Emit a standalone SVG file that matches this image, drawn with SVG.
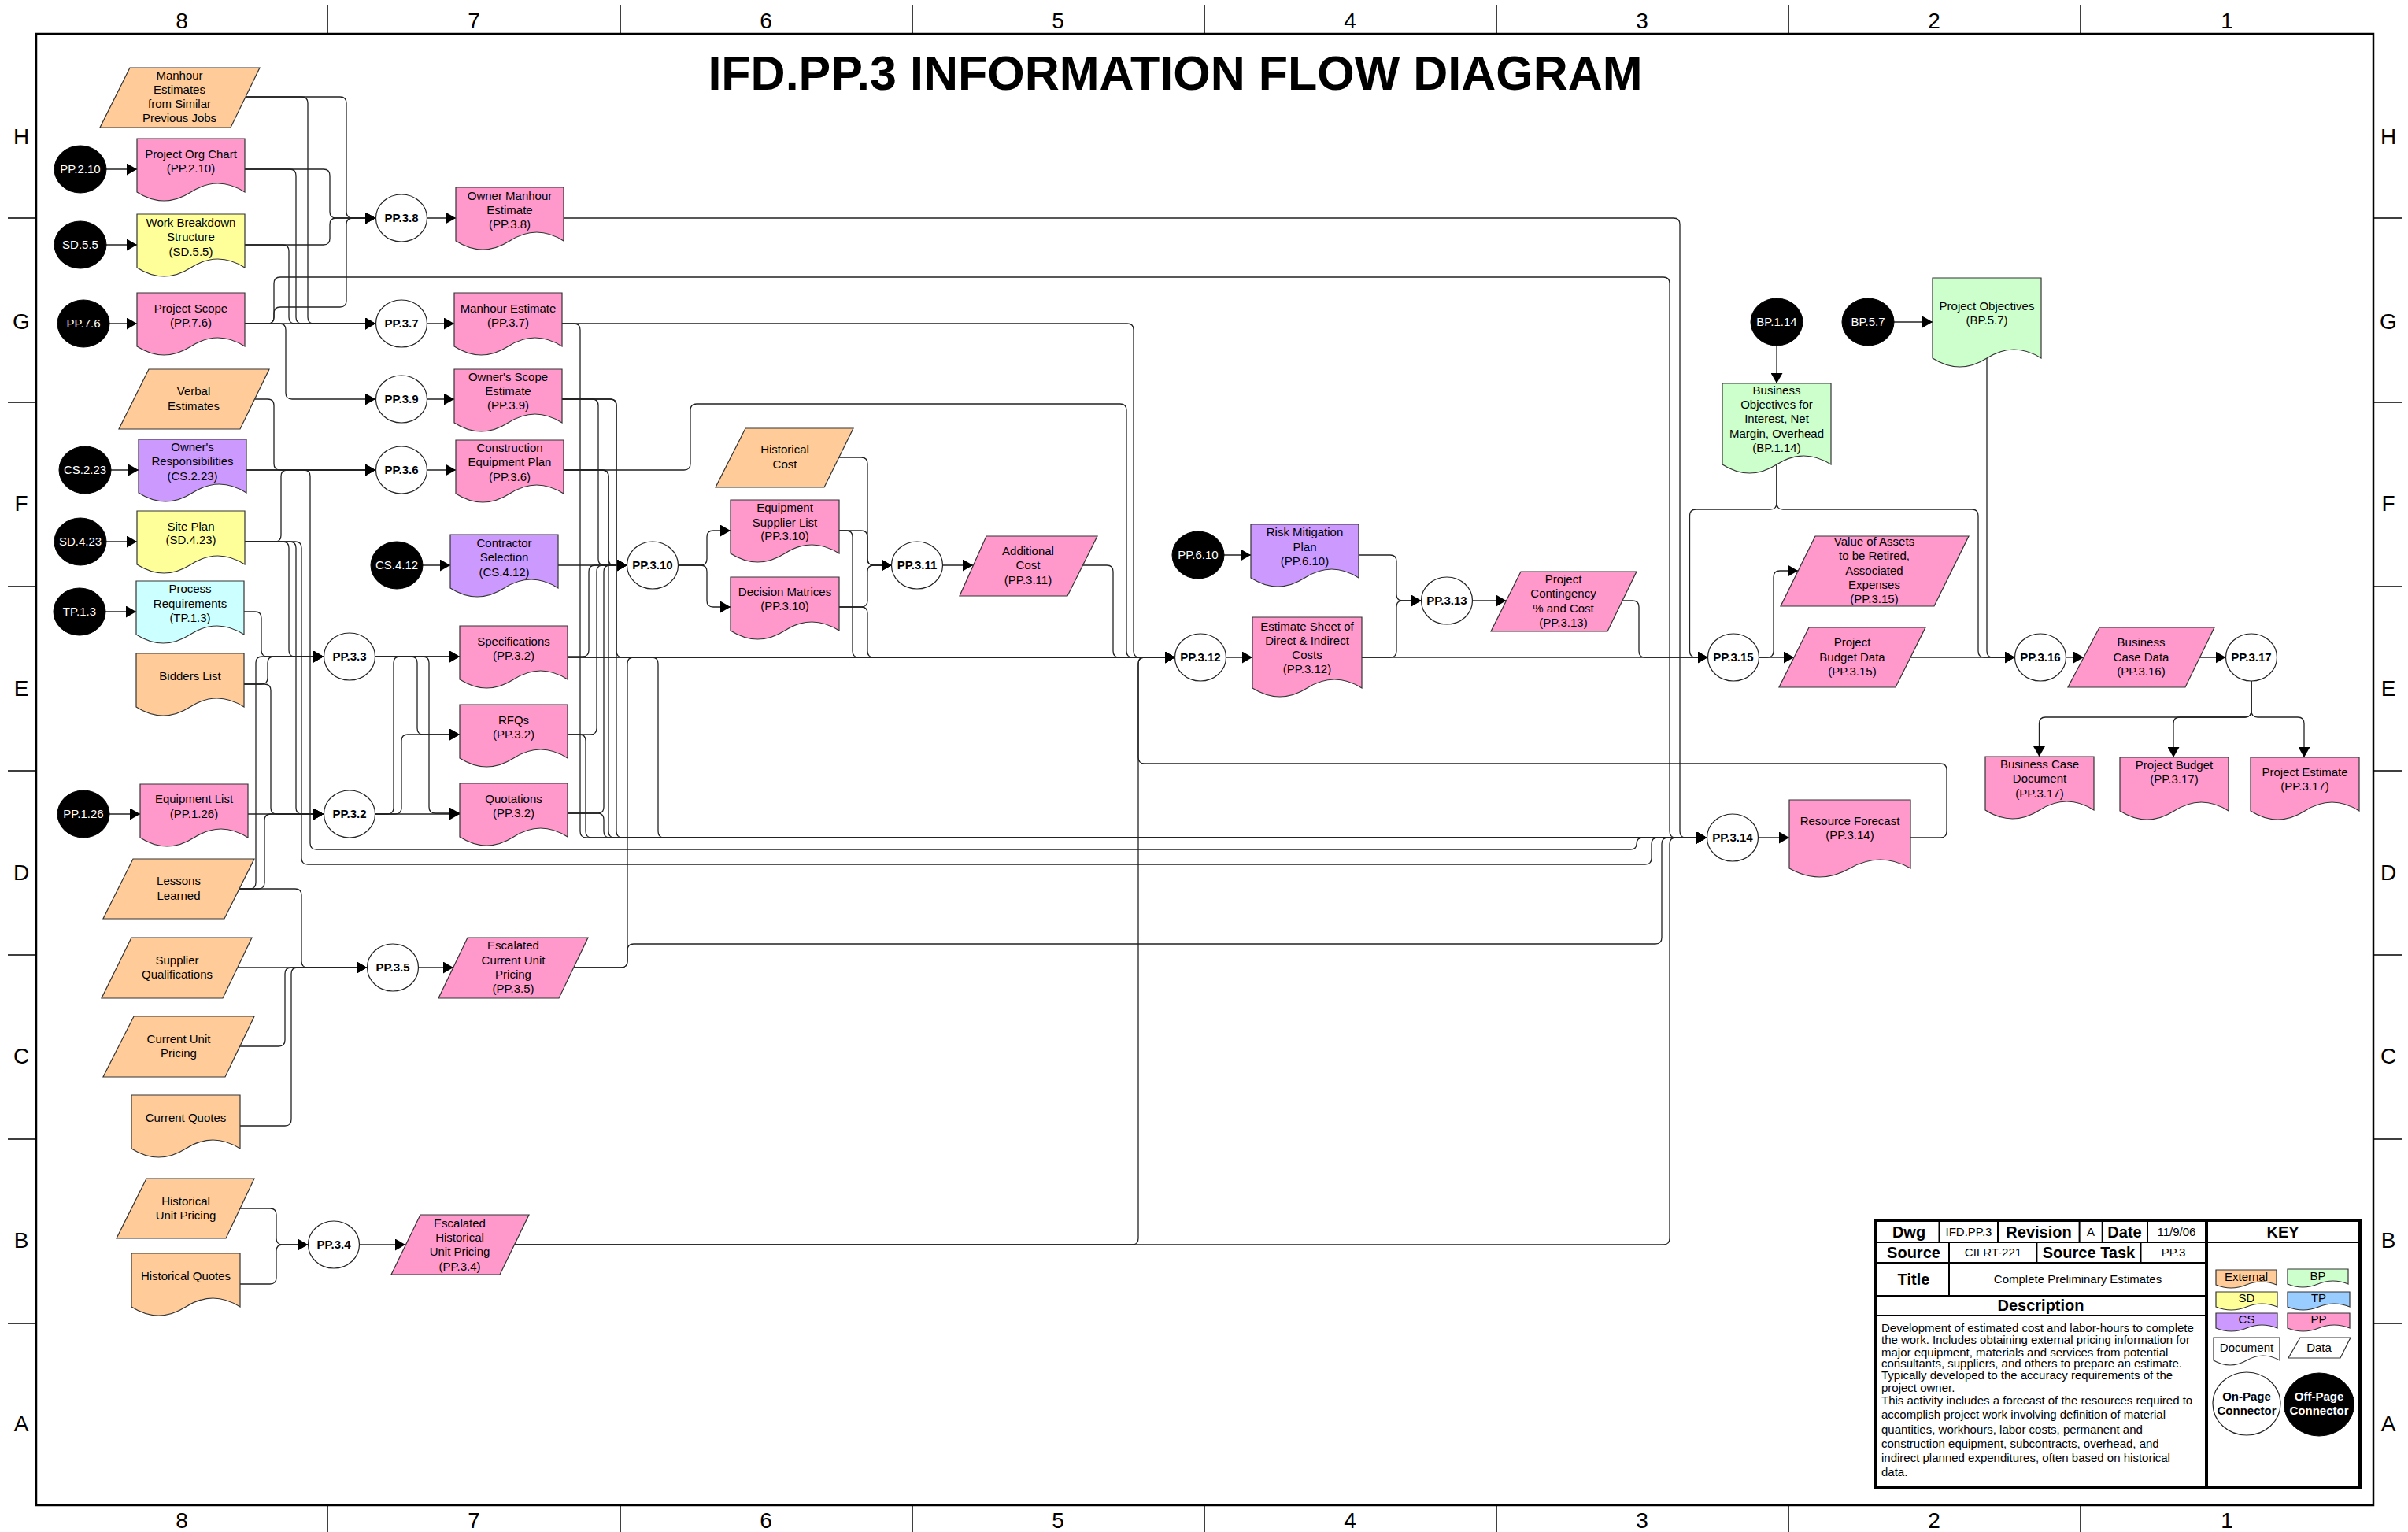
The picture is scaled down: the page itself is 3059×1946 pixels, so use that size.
<svg xmlns="http://www.w3.org/2000/svg" width="3059" height="1946" viewBox="0 0 3059 1946">
<style>
text{font-family:"Liberation Sans",Arial,sans-serif;font-size:15px;text-anchor:middle;fill:#000}
.b{font-weight:bold}
.w{fill:#fff}
.hd{font-size:28px}
.ti{font-size:61px;font-weight:bold}
.lb{font-size:20px;font-weight:bold}
.dl{text-anchor:start}
.ext{fill:#FFCC99}.pp{fill:#FF99CC}.sd{fill:#FFFF99}.cs{fill:#CC99FF}.tp{fill:#CCFFFF}.bp{fill:#CCFFCC}.tpk{fill:#99CCFF}
.sh{stroke:#333;stroke-width:1.2}
.op{fill:#000;stroke:#000}
.on{fill:#fff;stroke:#222;stroke-width:1.2}
#conn path{fill:none;stroke:#222;stroke-width:1.3;marker-end:url(#ah)}
.fr{fill:none;stroke:#000;stroke-width:2.5}
.tk{stroke:#000;stroke-width:1.5}
.lg{fill:none;stroke:#000;stroke-width:2}
</style>
<defs>
<marker id="ah" markerUnits="userSpaceOnUse" markerWidth="13" markerHeight="15" refX="13" refY="7.5" orient="auto">
<path d="M0,0 L13,7.5 L0,15 Z" fill="#000"/>
</marker>
</defs>
<rect width="3059" height="1946" fill="#fff"/>
<g id="frame">
<rect class="fr" x="46" y="43" width="2969" height="1869"/>
<path class="tk" d="M416,6V43M788,6V43M1159,6V43M1530,6V43M1901,6V43M2272,6V43M2643,6V43M416,1912V1946M788,1912V1946M1159,1912V1946M1530,1912V1946M1901,1912V1946M2272,1912V1946M2643,1912V1946M10,277H46M10,511H46M10,745H46M10,979H46M10,1213H46M10,1447H46M10,1681H46M3015,277H3051M3015,511H3051M3015,745H3051M3015,979H3051M3015,1213H3051M3015,1447H3051M3015,1681H3051"/>
<text class="hd" x="231" y="36">8</text><text class="hd" x="602" y="36">7</text><text class="hd" x="973" y="36">6</text><text class="hd" x="1344" y="36">5</text><text class="hd" x="1715" y="36">4</text><text class="hd" x="2086" y="36">3</text><text class="hd" x="2457" y="36">2</text><text class="hd" x="2829" y="36">1</text>
<text class="hd" x="231" y="1941">8</text><text class="hd" x="602" y="1941">7</text><text class="hd" x="973" y="1941">6</text><text class="hd" x="1344" y="1941">5</text><text class="hd" x="1715" y="1941">4</text><text class="hd" x="2086" y="1941">3</text><text class="hd" x="2457" y="1941">2</text><text class="hd" x="2829" y="1941">1</text>
<text class="hd" x="27" y="183">H</text><text class="hd" x="27" y="418">G</text><text class="hd" x="27" y="649">F</text><text class="hd" x="27" y="884">E</text><text class="hd" x="27" y="1118">D</text><text class="hd" x="27" y="1351">C</text><text class="hd" x="27" y="1585">B</text><text class="hd" x="27" y="1818">A</text>
<text class="hd" x="3034" y="183">H</text><text class="hd" x="3034" y="418">G</text><text class="hd" x="3034" y="649">F</text><text class="hd" x="3034" y="884">E</text><text class="hd" x="3034" y="1118">D</text><text class="hd" x="3034" y="1351">C</text><text class="hd" x="3034" y="1585">B</text><text class="hd" x="3034" y="1818">A</text>
<text class="ti" x="1493" y="114">IFD.PP.3 INFORMATION FLOW DIAGRAM</text>
</g>
<g id="conn">
<path d="M312,123H432Q440,123 440,131V269Q440,277 448,277H477"/>
<path d="M312,123H383Q391,123 391,131V403Q391,411 399,411H477"/>
<path d="M311,215H411Q419,215 419,223V269Q419,277 427,277H477"/>
<path d="M311,215H368Q376,215 376,223V403Q376,411 384,411H477"/>
<path d="M311,311H411Q419,311 419,303V285Q419,277 427,277H477"/>
<path d="M311,311H359Q367,311 367,319V403Q367,411 375,411H477"/>
<path d="M311,411H477"/>
<path d="M311,411H340Q348,411 348,403V398Q348,390 356,390H432Q440,390 440,382V285Q440,277 448,277H477"/>
<path d="M311,411H340Q348,411 348,403V360Q348,352 356,352H2113Q2121,352 2121,360V1056Q2121,1064 2129,1064H2168"/>
<path d="M311,411H355Q363,411 363,419V499Q363,507 371,507H477"/>
<path d="M324,507H340Q348,507 348,515V589Q348,597 356,597H477"/>
<path d="M313,597H477"/>
<path d="M313,597H386Q394,597 394,605V1071Q394,1079 402,1079H2071Q2079,1079 2079,1072Q2079,1064 2087,1064H2168"/>
<path d="M311,688H375Q383,688 383,696V1090Q383,1098 391,1098H2090Q2098,1098 2098,1090V1072Q2098,1064 2106,1064H2168"/>
<path d="M311,688H349Q357,688 357,680V605Q357,597 365,597H477"/>
<path d="M311,688H359Q367,688 367,696V826Q367,834 375,834H411"/>
<path d="M311,688H368Q376,688 376,696V1026Q376,1034 384,1034H411"/>
<path d="M310,777H324Q332,777 332,785V826Q332,834 340,834H411"/>
<path d="M310,869H332Q340,869 340,861V842Q340,834 348,834H411"/>
<path d="M310,869H336Q344,869 344,877V1026Q344,1034 352,1034H411"/>
<path d="M315,1034H411"/>
<path d="M304,1129H317Q325,1129 325,1121V842Q325,834 333,834H411"/>
<path d="M304,1129H328Q336,1129 336,1121V1042Q336,1034 344,1034H411"/>
<path d="M304,1129H375Q383,1129 383,1137V1221Q383,1229 391,1229H466"/>
<path d="M302,1229H466"/>
<path d="M304,1329H354Q362,1329 362,1321V1237Q362,1229 370,1229H466"/>
<path d="M305,1430H362Q370,1430 370,1422V1237Q370,1229 378,1229H466"/>
<path d="M305,1535H343Q351,1535 351,1543V1573Q351,1581 359,1581H391"/>
<path d="M305,1631H343Q351,1631 351,1623V1589Q351,1581 359,1581H391"/>
<path d="M542.5,277H579"/>
<path d="M542.5,411H577"/>
<path d="M542.5,507H577"/>
<path d="M542.5,597H579"/>
<path d="M476.5,834H584"/>
<path d="M476.5,834H522Q530,834 530,842V925Q530,933 538,933H584"/>
<path d="M476.5,834H537Q545,834 545,842V1025Q545,1033 553,1033H584"/>
<path d="M476.5,1034H584"/>
<path d="M476.5,1034H502Q510,1034 510,1026V941Q510,933 518,933H584"/>
<path d="M476.5,1034H492Q500,1034 500,1026V842Q500,834 508,834H584"/>
<path d="M531.5,1229H576"/>
<path d="M456.5,1581H515"/>
<path d="M709,718H796.5"/>
<path d="M714,507H752Q760,507 760,515V710Q760,718 768,718H796.5"/>
<path d="M716,597H765Q773,597 773,605V710Q773,718 781,718H796.5"/>
<path d="M721,834H740Q748,834 748,826V726Q748,718 756,718H796.5"/>
<path d="M721,933H750Q758,933 758,925V726Q758,718 766,718H796.5"/>
<path d="M721,1033H759Q767,1033 767,1025V726Q767,718 775,718H796.5"/>
<path d="M861.5,718H890Q898,718 898,710V682Q898,674 906,674H928"/>
<path d="M861.5,718H890Q898,718 898,726V763Q898,771 906,771H928"/>
<path d="M1066,581H1094Q1102,581 1102,589V710Q1102,718 1110,718H1132.5"/>
<path d="M1066,674H1094Q1102,674 1102,682V710Q1102,718 1110,718H1132.5"/>
<path d="M1066,771H1094Q1102,771 1102,763V726Q1102,718 1110,718H1132.5"/>
<path d="M1066,674H1075Q1083,674 1083,682V827Q1083,835 1091,835H1492.5"/>
<path d="M1066,771H1094Q1102,771 1102,779V827Q1102,835 1110,835H1492.5"/>
<path d="M1197.5,718H1236"/>
<path d="M1375.5,718H1406Q1414,718 1414,726V827Q1414,835 1422,835H1492.5"/>
<path d="M714,411H1432Q1440,411 1440,419V827Q1440,835 1448,835H1492.5"/>
<path d="M716,597H869Q877,597 877,589V521Q877,513 885,513H1423Q1431,513 1431,521V827Q1431,835 1439,835H1492.5"/>
<path d="M714,507H775Q783,507 783,515V827Q783,835 791,835H1492.5"/>
<path d="M721,835H1492.5"/>
<path d="M716,277H2126Q2134,277 2134,285V1056Q2134,1064 2142,1064H2168"/>
<path d="M714,411H729Q737,411 737,419V1056Q737,1064 745,1064H2168"/>
<path d="M721,933H736Q744,933 744,941V1056Q744,1064 752,1064H2168"/>
<path d="M721,1033H759Q767,1033 767,1041V1056Q767,1064 775,1064H2168"/>
<path d="M716,597H765Q773,597 773,605V1056Q773,1064 781,1064H2168"/>
<path d="M714,507H775Q783,507 783,515V1056Q783,1064 791,1064H2168"/>
<path d="M721,835H828Q836,835 836,843V1056Q836,1064 844,1064H2168"/>
<path d="M728.5,1229H789Q797,1229 797,1221V843Q797,835 805,835H1492.5"/>
<path d="M728.5,1229H789Q797,1229 797,1221V1207Q797,1199 805,1199H2103Q2111,1199 2111,1191V1072Q2111,1064 2119,1064H2168"/>
<path d="M653.5,1581H1438Q1446,1581 1446,1573V843Q1446,835 1454,835H1492.5"/>
<path d="M653.5,1581H2113Q2121,1581 2121,1573V1072Q2121,1064 2129,1064H2168"/>
<path d="M2427,1064H2465Q2473,1064 2473,1056V978Q2473,970 2465,970H1454Q1446,970 1446,962V843Q1446,835 1454,835H1492.5"/>
<path d="M1557.5,835H1591"/>
<path d="M1730,835H2169.5"/>
<path d="M1730,835H1766Q1774,835 1774,827V771Q1774,763 1782,763H1805.5"/>
<path d="M1726,705H1766Q1774,705 1774,713V755Q1774,763 1782,763H1805.5"/>
<path d="M1870.5,763H1913.5"/>
<path d="M2060.5,763H2074Q2082,763 2082,771V827Q2082,835 2090,835H2169.5"/>
<path d="M2234.5,835H2279"/>
<path d="M2234.5,835H2245Q2253,835 2253,827V733Q2253,725 2261,725H2284"/>
<path d="M2257,590V639Q2257,647 2249,647H2154.5Q2146.5,647 2146.5,655V827Q2146.5,835 2154.5,835H2169.5"/>
<path d="M2257,590V639Q2257,647 2265,647H2505Q2513,647 2513,655V827Q2513,835 2521,835H2559.5"/>
<path d="M2524,455V827Q2524,835 2532,835H2559.5"/>
<path d="M2427,835H2559.5"/>
<path d="M2624.5,835H2647"/>
<path d="M2794.5,835H2827.5"/>
<path d="M2860,865V903Q2860,911 2852,911H2598.5Q2590.5,911 2590.5,919V961"/>
<path d="M2860,865V903Q2860,911 2852,911H2769Q2761,911 2761,919V962"/>
<path d="M2860,865V903Q2860,911 2868,911H2919Q2927,911 2927,919V962"/>
<path d="M2233.5,1064H2273"/>
<path d="M135,215H174"/>
<path d="M135,311H174"/>
<path d="M139,411H174"/>
<path d="M141,597H176"/>
<path d="M135,688H174"/>
<path d="M134,777H173"/>
<path d="M139,1034H178"/>
<path d="M537,718H572"/>
<path d="M1555,705H1589"/>
<path d="M2257,439V487"/>
<path d="M2406,409H2455"/>
</g>
<g id="offpage">
<g id="op-pp210"><ellipse class="op" cx="102" cy="215" rx="33" ry="30"/><text class="w" x="102" y="220">PP.2.10</text></g>
<g id="op-sd55"><ellipse class="op" cx="102" cy="311" rx="33" ry="30"/><text class="w" x="102" y="316">SD.5.5</text></g>
<g id="op-pp76"><ellipse class="op" cx="106" cy="411" rx="33" ry="30"/><text class="w" x="106" y="416">PP.7.6</text></g>
<g id="op-cs223"><ellipse class="op" cx="108" cy="597" rx="33" ry="30"/><text class="w" x="108" y="602">CS.2.23</text></g>
<g id="op-sd423"><ellipse class="op" cx="102" cy="688" rx="33" ry="30"/><text class="w" x="102" y="693">SD.4.23</text></g>
<g id="op-tp13"><ellipse class="op" cx="101" cy="777" rx="33" ry="30"/><text class="w" x="101" y="782">TP.1.3</text></g>
<g id="op-pp126"><ellipse class="op" cx="106" cy="1034" rx="33" ry="30"/><text class="w" x="106" y="1039">PP.1.26</text></g>
<g id="op-cs412"><ellipse class="op" cx="504" cy="718" rx="33" ry="30"/><text class="w" x="504" y="723">CS.4.12</text></g>
<g id="op-pp610"><ellipse class="op" cx="1522" cy="705" rx="33" ry="30"/><text class="w" x="1522" y="710">PP.6.10</text></g>
<g id="op-bp114"><ellipse class="op" cx="2257" cy="409" rx="33" ry="30"/><text class="w" x="2257" y="414">BP.1.14</text></g>
<g id="op-bp57"><ellipse class="op" cx="2373" cy="409" rx="33" ry="30"/><text class="w" x="2373" y="414">BP.5.7</text></g>
</g>
<g id="onpage">
<g id="pp38"><ellipse class="on" cx="510" cy="277" rx="32.5" ry="30"/><text class="b" x="510" y="282">PP.3.8</text></g>
<g id="pp37"><ellipse class="on" cx="510" cy="411" rx="32.5" ry="30"/><text class="b" x="510" y="416">PP.3.7</text></g>
<g id="pp39"><ellipse class="on" cx="510" cy="507" rx="32.5" ry="30"/><text class="b" x="510" y="512">PP.3.9</text></g>
<g id="pp36"><ellipse class="on" cx="510" cy="597" rx="32.5" ry="30"/><text class="b" x="510" y="602">PP.3.6</text></g>
<g id="pp33"><ellipse class="on" cx="444" cy="834" rx="32.5" ry="30"/><text class="b" x="444" y="839">PP.3.3</text></g>
<g id="pp32"><ellipse class="on" cx="444" cy="1034" rx="32.5" ry="30"/><text class="b" x="444" y="1039">PP.3.2</text></g>
<g id="pp35"><ellipse class="on" cx="499" cy="1229" rx="32.5" ry="30"/><text class="b" x="499" y="1234">PP.3.5</text></g>
<g id="pp34"><ellipse class="on" cx="424" cy="1581" rx="32.5" ry="30"/><text class="b" x="424" y="1586">PP.3.4</text></g>
<g id="pp310"><ellipse class="on" cx="829" cy="718" rx="32.5" ry="30"/><text class="b" x="829" y="723">PP.3.10</text></g>
<g id="pp311"><ellipse class="on" cx="1165" cy="718" rx="32.5" ry="30"/><text class="b" x="1165" y="723">PP.3.11</text></g>
<g id="pp312"><ellipse class="on" cx="1525" cy="835" rx="32.5" ry="30"/><text class="b" x="1525" y="840">PP.3.12</text></g>
<g id="pp313"><ellipse class="on" cx="1838" cy="763" rx="32.5" ry="30"/><text class="b" x="1838" y="768">PP.3.13</text></g>
<g id="pp315"><ellipse class="on" cx="2202" cy="835" rx="32.5" ry="30"/><text class="b" x="2202" y="840">PP.3.15</text></g>
<g id="pp316"><ellipse class="on" cx="2592" cy="835" rx="32.5" ry="30"/><text class="b" x="2592" y="840">PP.3.16</text></g>
<g id="pp317"><ellipse class="on" cx="2860" cy="835" rx="32.5" ry="30"/><text class="b" x="2860" y="840">PP.3.17</text></g>
<g id="pp314"><ellipse class="on" cx="2201" cy="1064" rx="32.5" ry="30"/><text class="b" x="2201" y="1069">PP.3.14</text></g>
</g>
<g id="docs">
<g id="d-orgchart"><path class="pp sh" d="M174,176H311V244Q276.75,222 242.5,244T174,244Z"/><text x="242.5" y="201">Project Org Chart</text><text x="242.5" y="219">(PP.2.10)</text></g>
<g id="d-wbs"><path class="sd sh" d="M174,272H311V340Q276.75,318 242.5,340T174,340Z"/><text x="242.5" y="288">Work Breakdown</text><text x="242.5" y="306">Structure</text><text x="242.5" y="325">(SD.5.5)</text></g>
<g id="d-scope"><path class="pp sh" d="M174,372H311V440Q276.75,418 242.5,440T174,440Z"/><text x="242.5" y="397">Project Scope</text><text x="242.5" y="415">(PP.7.6)</text></g>
<g id="d-ownresp"><path class="cs sh" d="M176,558H313V626Q278.75,604 244.5,626T176,626Z"/><text x="244.5" y="573">Owner's</text><text x="244.5" y="591">Responsibilities</text><text x="244.5" y="610">(CS.2.23)</text></g>
<g id="d-siteplan"><path class="sd sh" d="M174,649H311V717Q276.75,695 242.5,717T174,717Z"/><text x="242.5" y="674">Site Plan</text><text x="242.5" y="691">(SD.4.23)</text></g>
<g id="d-procreq"><path class="tp sh" d="M173,738H310V806Q275.75,784 241.5,806T173,806Z"/><text x="241.5" y="753">Process</text><text x="241.5" y="772">Requirements</text><text x="241.5" y="790">(TP.1.3)</text></g>
<g id="d-bidders"><path class="ext sh" d="M173,830H310V898Q275.75,876 241.5,898T173,898Z"/><text x="241.5" y="864">Bidders List</text></g>
<g id="d-equiplist"><path class="pp sh" d="M178,996H315V1064Q280.75,1042 246.5,1064T178,1064Z"/><text x="246.5" y="1020">Equipment List</text><text x="246.5" y="1039">(PP.1.26)</text></g>
<g id="d-curquotes"><path class="ext sh" d="M167,1391H305V1459Q270.5,1437 236,1459T167,1459Z"/><text x="236" y="1425">Current Quotes</text></g>
<g id="d-histquotes"><path class="ext sh" d="M167,1592H305V1660Q270.5,1638 236,1660T167,1660Z"/><text x="236" y="1626">Historical Quotes</text></g>
<g id="d-ownmanhour"><path class="pp sh" d="M579,238H716V306Q681.75,284 647.5,306T579,306Z"/><text x="647.5" y="254">Owner Manhour</text><text x="647.5" y="272">Estimate</text><text x="647.5" y="290">(PP.3.8)</text></g>
<g id="d-manhour"><path class="pp sh" d="M577,372H714V440Q679.75,418 645.5,440T577,440Z"/><text x="645.5" y="397">Manhour Estimate</text><text x="645.5" y="415">(PP.3.7)</text></g>
<g id="d-ownscope"><path class="pp sh" d="M577,469H714V537Q679.75,515 645.5,537T577,537Z"/><text x="645.5" y="484">Owner's Scope</text><text x="645.5" y="502">Estimate</text><text x="645.5" y="520">(PP.3.9)</text></g>
<g id="d-constr"><path class="pp sh" d="M579,559H716V627Q681.75,605 647.5,627T579,627Z"/><text x="647.5" y="574">Construction</text><text x="647.5" y="592">Equipment Plan</text><text x="647.5" y="611">(PP.3.6)</text></g>
<g id="d-spec"><path class="pp sh" d="M584,795H721V863Q686.75,841 652.5,863T584,863Z"/><text x="652.5" y="820">Specifications</text><text x="652.5" y="838">(PP.3.2)</text></g>
<g id="d-rfq"><path class="pp sh" d="M584,895H721V963Q686.75,941 652.5,963T584,963Z"/><text x="652.5" y="920">RFQs</text><text x="652.5" y="938">(PP.3.2)</text></g>
<g id="d-quot"><path class="pp sh" d="M584,995H721V1063Q686.75,1041 652.5,1063T584,1063Z"/><text x="652.5" y="1020">Quotations</text><text x="652.5" y="1038">(PP.3.2)</text></g>
<g id="d-contractor"><path class="cs sh" d="M572,679H709V747Q674.75,725 640.5,747T572,747Z"/><text x="640.5" y="695">Contractor</text><text x="640.5" y="713">Selection</text><text x="640.5" y="732">(CS.4.12)</text></g>
<g id="d-esl"><path class="pp sh" d="M928,635H1066V703Q1031.5,681 997,703T928,703Z"/><text x="997" y="650">Equipment</text><text x="997" y="669">Supplier List</text><text x="997" y="686">(PP.3.10)</text></g>
<g id="d-dm"><path class="pp sh" d="M928,733H1066V801Q1031.5,779 997,801T928,801Z"/><text x="997" y="757">Decision Matrices</text><text x="997" y="775">(PP.3.10)</text></g>
<g id="d-risk"><path class="cs sh" d="M1589,666H1726V734Q1691.75,712 1657.5,734T1589,734Z"/><text x="1657.5" y="681">Risk Mitigation</text><text x="1657.5" y="700">Plan</text><text x="1657.5" y="718">(PP.6.10)</text></g>
<g id="d-estsheet"><path class="pp sh" d="M1591,784H1730V874Q1695.25,852 1660.5,874T1591,874Z"/><text x="1660.5" y="801">Estimate Sheet of</text><text x="1660.5" y="819">Direct &amp; Indirect</text><text x="1660.5" y="837">Costs</text><text x="1660.5" y="855">(PP.3.12)</text></g>
<g id="d-projobj"><path class="bp sh" d="M2455,353H2593V455Q2558.5,433 2524,455T2455,455Z"/><text x="2524" y="394">Project Objectives</text><text x="2524" y="412">(BP.5.7)</text></g>
<g id="d-busobj"><path class="bp sh" d="M2188,487H2326V590Q2291.5,568 2257,590T2188,590Z"/><text x="2257" y="501">Business</text><text x="2257" y="519">Objectives for</text><text x="2257" y="537">Interest, Net</text><text x="2257" y="556">Margin, Overhead</text><text x="2257" y="574">(BP.1.14)</text></g>
<g id="d-resfc"><path class="pp sh" d="M2273,1016H2427V1103Q2388.5,1081 2350,1103T2273,1103Z"/><text x="2350" y="1048">Resource Forecast</text><text x="2350" y="1066">(PP.3.14)</text></g>
<g id="d-bcdoc"><path class="pp sh" d="M2522,961H2660V1029Q2625.5,1007 2591,1029T2522,1029Z"/><text x="2591" y="976">Business Case</text><text x="2591" y="994">Document</text><text x="2591" y="1013">(PP.3.17)</text></g>
<g id="d-pbudget"><path class="pp sh" d="M2693,962H2831V1030Q2796.5,1008 2762,1030T2693,1030Z"/><text x="2762" y="977">Project Budget</text><text x="2762" y="995">(PP.3.17)</text></g>
<g id="d-pest"><path class="pp sh" d="M2859,962H2997V1030Q2962.5,1008 2928,1030T2859,1030Z"/><text x="2928" y="986">Project Estimate</text><text x="2928" y="1004">(PP.3.17)</text></g>
</g>
<g id="data">
<g id="p-manhourest"><polygon class="ext sh" points="165,86 330,86 293,162 127,162"/><text x="228" y="101">Manhour</text><text x="228" y="119">Estimates</text><text x="228" y="137">from Similar</text><text x="228" y="155">Previous Jobs</text></g>
<g id="p-verbal"><polygon class="ext sh" points="189,469 342,469 305,545 151,545"/><text x="246" y="502">Verbal</text><text x="246" y="521">Estimates</text></g>
<g id="p-lessons"><polygon class="ext sh" points="169,1091 323,1091 285,1167 131,1167"/><text x="227" y="1124">Lessons</text><text x="227" y="1143">Learned</text></g>
<g id="p-supqual"><polygon class="ext sh" points="167,1191 320,1191 283,1268 129,1268"/><text x="225" y="1225">Supplier</text><text x="225" y="1243">Qualifications</text></g>
<g id="p-curunit"><polygon class="ext sh" points="170,1291 323,1291 286,1368 131,1368"/><text x="227" y="1325">Current Unit</text><text x="227" y="1343">Pricing</text></g>
<g id="p-histunit"><polygon class="ext sh" points="186,1497 323,1497 287,1573 148,1573"/><text x="236" y="1531">Historical</text><text x="236" y="1549">Unit Pricing</text></g>
<g id="p-histcost"><polygon class="ext sh" points="947,544 1084,544 1047,619 909,619"/><text x="997" y="576">Historical</text><text x="997" y="595">Cost</text></g>
<g id="p-esccur"><polygon class="pp sh" points="594,1191 747,1191 710,1268 557,1268"/><text x="652" y="1206">Escalated</text><text x="652" y="1225">Current Unit</text><text x="652" y="1243">Pricing</text><text x="652" y="1261">(PP.3.5)</text></g>
<g id="p-eschist"><polygon class="pp sh" points="534,1543 672,1543 635,1619 497,1619"/><text x="584" y="1559">Escalated</text><text x="584" y="1577">Historical</text><text x="584" y="1595">Unit Pricing</text><text x="584" y="1614">(PP.3.4)</text></g>
<g id="p-addcost"><polygon class="pp sh" points="1253,681 1394,681 1356,757 1219,757"/><text x="1306" y="705">Additional</text><text x="1306" y="723">Cost</text><text x="1306" y="742">(PP.3.11)</text></g>
<g id="p-conting"><polygon class="pp sh" points="1932,726 2079,726 2042,802 1894,802"/><text x="1986" y="741">Project</text><text x="1986" y="759">Contingency</text><text x="1986" y="778">% and Cost</text><text x="1986" y="796">(PP.3.13)</text></g>
<g id="p-voa"><polygon class="pp sh" points="2306,681 2501,681 2457,770 2262,770"/><text x="2381" y="693">Value of Assets</text><text x="2381" y="711">to be Retired,</text><text x="2381" y="730">Associated</text><text x="2381" y="748">Expenses</text><text x="2381" y="766">(PP.3.15)</text></g>
<g id="p-pbd"><polygon class="pp sh" points="2298,797 2446,797 2408,873 2260,873"/><text x="2353" y="821">Project</text><text x="2353" y="840">Budget Data</text><text x="2353" y="858">(PP.3.15)</text></g>
<g id="p-bcd"><polygon class="pp sh" points="2667,797 2813,797 2776,873 2627,873"/><text x="2720" y="821">Business</text><text x="2720" y="840">Case Data</text><text x="2720" y="858">(PP.3.16)</text></g>
</g>
<g id="legend">
<rect x="2382" y="1550" width="616" height="340" fill="#fff" stroke="#000" stroke-width="4"/>
<path stroke="#000" stroke-width="4" d="M2803,1550V1890"/>
<path class="lg" d="M2382,1578H2998M2382,1604H2803M2382,1646H2803M2382,1671H2803M2463.5,1550V1578M2538,1550V1578M2641.6,1550V1578M2670.7,1550V1578M2728,1550V1578M2476,1578V1646M2587.4,1578V1604M2719.5,1578V1604"/>
<text class="lb" x="2425" y="1572">Dwg</text>
<text x="2501" y="1570">IFD.PP.3</text>
<text class="lb" x="2590" y="1572">Revision</text>
<text x="2656" y="1570">A</text>
<text class="lb" x="2699" y="1572">Date</text>
<text x="2765" y="1570">11/9/06</text>
<text class="lb" x="2431" y="1598">Source</text>
<text x="2532" y="1596">CII RT-221</text>
<text class="lb" x="2653.5" y="1598">Source Task</text>
<text x="2761" y="1596">PP.3</text>
<text class="lb" x="2431" y="1632">Title</text>
<text x="2639.5" y="1630">Complete Preliminary Estimates</text>
<text class="lb" x="2592.5" y="1665">Description</text>
<text class="dl" x="2390" y="1692">Development of estimated cost and labor-hours to complete</text>
<text class="dl" x="2390" y="1707">the work. Includes obtaining external pricing information for</text>
<text class="dl" x="2390" y="1723">major equipment, materials and services from potential</text>
<text class="dl" x="2390" y="1737">consultants, suppliers, and others to prepare an estimate.</text>
<text class="dl" x="2390" y="1752">Typically developed to the accuracy requirements of the</text>
<text class="dl" x="2390" y="1768">project owner.</text>
<text class="dl" x="2390" y="1784">This activity includes a forecast of the resources required to</text>
<text class="dl" x="2390" y="1802">accomplish project work involving definition of material</text>
<text class="dl" x="2390" y="1821">quantities, workhours, labor costs, permanent and</text>
<text class="dl" x="2390" y="1839">construction equipment, subcontracts, overhead, and</text>
<text class="dl" x="2390" y="1857">indirect planned expenditures, often based on historical</text>
<text class="dl" x="2390" y="1875">data.</text>
<text class="lb" x="2900" y="1572">KEY</text>
<g id="key-ext"><path class="ext sh" d="M2815,1613H2892V1632Q2872.75,1624 2853.5,1632T2815,1632Z"/><text x="2853.5" y="1627">External</text></g>
<g id="key-bp"><path class="bp sh" d="M2906,1612H2983V1631Q2963.75,1623 2944.5,1631T2906,1631Z"/><text x="2944.5" y="1626">BP</text></g>
<g id="key-sd"><path class="sd sh" d="M2815,1641H2893V1660Q2873.5,1652 2854,1660T2815,1660Z"/><text x="2854" y="1654">SD</text></g>
<g id="key-tp"><path class="tpk sh" d="M2906,1641H2985V1660Q2965.25,1652 2945.5,1660T2906,1660Z"/><text x="2945.5" y="1654">TP</text></g>
<g id="key-cs"><path class="cs sh" d="M2815,1668H2893V1687Q2873.5,1679 2854,1687T2815,1687Z"/><text x="2854" y="1681">CS</text></g>
<g id="key-pp"><path class="pp sh" d="M2906,1668H2985V1687Q2965.25,1679 2945.5,1687T2906,1687Z"/><text x="2945.5" y="1681">PP</text></g>
<g id="key-doc"><path fill="#fff" class="sh" d="M2812,1699H2896V1728Q2875,1716 2854,1728T2812,1728Z"/><text x="2854" y="1717">Document</text></g>
<g id="key-data"><polygon fill="#fff" class="sh" points="2922,1699 2986,1699 2973,1725 2907,1725"/><text x="2946" y="1717">Data</text></g>
<g id="key-on"><ellipse class="on" cx="2854" cy="1783" rx="43" ry="40"/><text class="b" x="2854" y="1779">On-Page</text><text class="b" x="2854" y="1797">Connector</text></g>
<g id="key-off"><ellipse class="op" cx="2946" cy="1784" rx="44.5" ry="40"/><text class="b w" x="2946" y="1779">Off-Page</text><text class="b w" x="2946" y="1797">Connector</text></g>
</g>
</svg>
